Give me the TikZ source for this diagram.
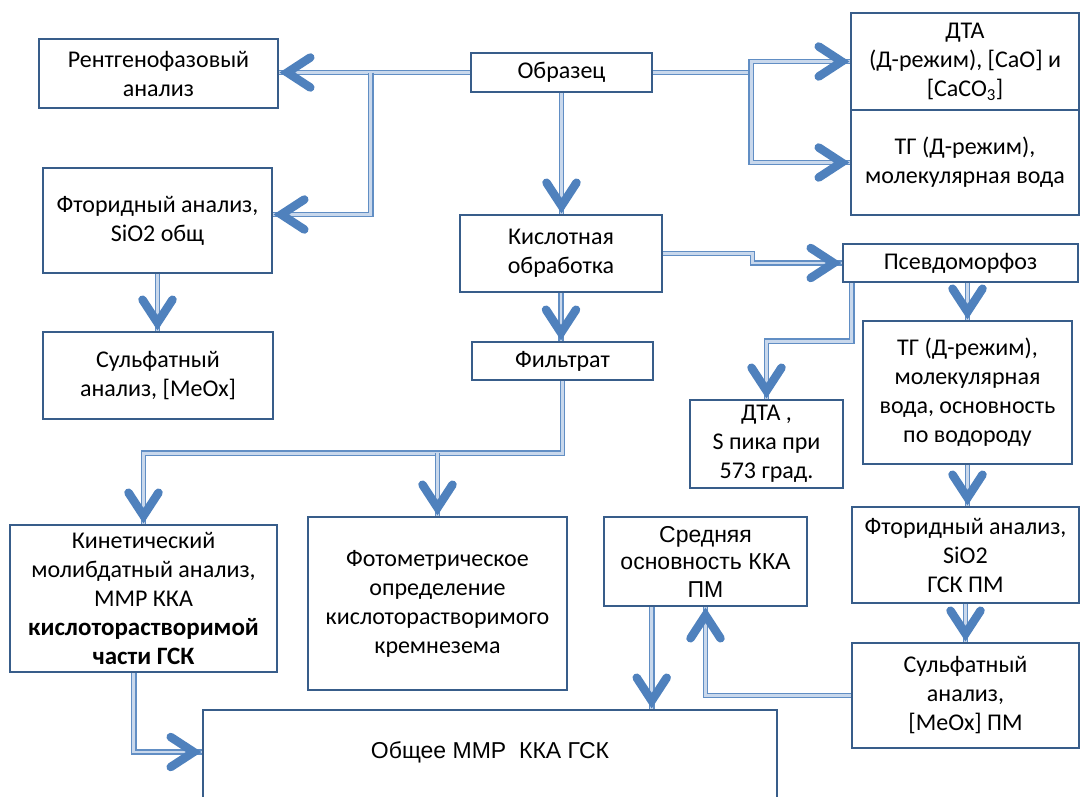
\documentclass[tikz,border=0pt]{standalone}
\usepackage{fontspec}
\setmainfont{Carlito}
\newfontfamily\arialf{Liberation Sans}
\usetikzlibrary{calc}
\definecolor{navy}{HTML}{385D8A}
\definecolor{mblue}{HTML}{4F81BD}
\definecolor{lblue}{HTML}{C9D8EC}
\newcommand\bxfont{\fontsize{24}{29}\selectfont}
\newcommand\arfont{\arialf\fontsize{23}{27.5}\selectfont}
\begin{document}
\begin{tikzpicture}[x=1pt,y=-1pt,
  box/.style={draw=navy, line width=2.6pt, fill=white, align=center, inner sep=0pt, font=\bxfont, text=black},
  conn/.style={draw=mblue!90, line width=1.6pt, double=lblue, double distance=2.6pt},
  chevline/.style={draw=mblue, line width=8.5pt, line cap=round, line join=miter},
  pics/chev/.style={code={\draw[chevline] (-31,-15) -- (-8,0) -- (-31,15);}},
]
\useasboundingbox (0,0) rectangle (1081,796);

% boxes
\node[box, minimum width=239, minimum height=69] (Rent) at (158.5,73.5) {Рентгенофазовый\\ анализ};
\node[box, minimum width=229, minimum height=105] (Ftor) at (157.5,220.5) {Фторидный анализ,\\ SiO2 общ};
\node[box, minimum width=230, minimum height=87] (Sulf) at (158,375.5) {Сульфатный\\ анализ, [MeOx]};
\node[box, minimum width=181, minimum height=39] (Obr) at (561.5,72.5) {Образец};
\node[box, minimum width=228, minimum height=97] (DTA) at (965,61.5) {ДТА\\ (Д-режим), [CaO] и\\ {[CaCO\textsubscript{3}]}};
\node[box, minimum width=228, minimum height=105] (TG) at (965,162.5) {ТГ (Д-режим),\\ молекулярная вода};
\node[box, minimum width=202, minimum height=77] (Kisl) at (561,253.5) {Кислотная\\ обработка};
\node[box, minimum width=181, minimum height=38] (Filtr) at (562.5,361) {Фильтрат};
\node[box, minimum width=235, minimum height=38] (Psev) at (960.5,263) {Псевдоморфоз};
\node[box, minimum width=209, minimum height=143] (TGb) at (967.5,392.5) {ТГ (Д-режим),\\ молекулярная\\ вода, основность\\ по водороду};
\node[box, minimum width=153, minimum height=88] (DTAs) at (766.5,444) {ДТА ,\\ S пика при\\ 573 град.};
\node[box, minimum width=267, minimum height=147] (Kin) at (143.5,598.5) {Кинетический\\ молибдатный анализ,\\ ММР ККА\\ {\fontsize{25}{29}\selectfont\bfseries кислоторастворимой}\\ {\fontsize{25}{29}\selectfont\bfseries части ГСК}};
\node[box, minimum width=259, minimum height=173] (Foto) at (437.5,603.5) {Фотометрическое\\ определение\\ кислоторастворимого\\ кремнезема};
\node[box, minimum width=203, minimum height=89, font=\arfont] (Sred) at (705.5,561.5) {Средняя\\ основность ККА\\ ПМ};
\node[box, minimum width=227, minimum height=96] (FtorPM) at (965.5,555) {Фторидный анализ,\\ SiO2\\ ГСК ПМ};
\node[box, minimum width=227, minimum height=105] (SulfPM) at (965.5,695.5) {Сульфатный\\ анализ,\\ {[MeOx] ПМ}};
\node[box, minimum width=574, minimum height=120] (Obsh) at (490,770) {};
\node[font=\arfont, text=black, inner sep=0pt] (ObshT) at (490,752) {Общее ММР\ \ ККА ГСК};

% end points of connectors
\coordinate (eRent) at (Obr.west -| Rent.east);
\coordinate (eFtor) at ($(Ftor.east)+(0,-6)$);
\coordinate (eKisl) at (Obr.south |- Kisl.north);
\coordinate (eFiltr) at (Kisl.south |- Filtr.north);
\coordinate (eFtorPM) at (TGb.south |- FtorPM.north);
\coordinate (eKin) at (Obsh.west |- ObshT);
\coordinate (eSulf) at (Ftor.south |- Sulf.north);

% connectors
\coordinate (b1) at ($(Obr.west)+(-99,0)$);
\draw[conn] (Obr.west) -- (eRent);
\draw[conn] (b1) |- (eFtor);
\coordinate (b2) at ($(Obr.east)+(98,0)$);
\draw[conn] (Obr.east) -- (b2);
\draw[conn] (b2) |- (DTA.west);
\draw[conn] (b2) |- (TG.west);
\draw[conn] (Obr.south) -- (eKisl);
\draw[conn] (Kisl.east) -| ($(Kisl.east)!0.5!(Psev.west)$) |- (Psev.west);
\draw[conn] (Kisl.south) -- (eFiltr);
\coordinate (fj) at ($(Filtr.south)+(0,72)$);
\draw[conn] (Filtr.south) -- (fj) -| (Kin.north);
\draw[conn] (fj -| Foto.north) -- (Foto.north);
\coordinate (ps1) at ($(Psev.south west)+(10,0)$);
\draw[conn] (ps1) -- ++(0,58) -| (DTAs.north);
\draw[conn] (Psev.south -| TGb.north) -- (TGb.north);
\draw[conn] (TGb.south) -- (eFtorPM);
\draw[conn] (FtorPM.south) -- (SulfPM.north);
\draw[conn] (SulfPM.west) -| (Sred.south);
\coordinate (s1) at ($(Sred.south west)+(49,0)$);
\coordinate (eObsh) at (s1 |- Obsh.north);
\draw[conn] (s1) -- (eObsh);
\coordinate (k1) at ($(Kin.south west)+(125,0)$);
\draw[conn] (k1) |- (eKin);
\draw[conn] (Ftor.south) -- (eSulf);

% arrowheads (open chevrons)
\pic[rotate=180] at (eRent) {chev};
\pic[rotate=180] at (eFtor) {chev};
\pic at (DTA.west) {chev};
\pic at (TG.west) {chev};
\pic at (Psev.west) {chev};
\pic at (eKin) {chev};
\pic[rotate=-90] at (eKisl) {chev};
\pic[rotate=-90] at (eFiltr) {chev};
\pic[rotate=-90] at (Kin.north) {chev};
\pic[rotate=-90] at (Foto.north) {chev};
\pic[rotate=-90] at (DTAs.north) {chev};
\pic[rotate=-90] at (TGb.north) {chev};
\pic[rotate=-90] at (eFtorPM) {chev};
\pic[rotate=-90] at (SulfPM.north) {chev};
\pic[rotate=-90] at (eObsh) {chev};
\pic[rotate=-90] at (eSulf) {chev};
\pic[rotate=90] at (Sred.south) {chev};
\end{tikzpicture}
\end{document}
